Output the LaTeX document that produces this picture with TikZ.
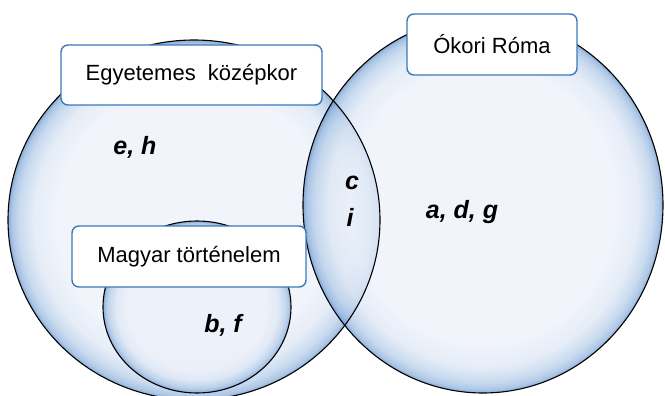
\documentclass[tikz,border=0pt]{standalone}
\usepackage{fontspec}
\setmainfont{Liberation Sans}
\usetikzlibrary{positioning}
\definecolor{bubin}{HTML}{EBF0F9}
\definecolor{bubmid}{HTML}{DCE6F4}
\definecolor{bubhi}{HTML}{B5CDE9}
\definecolor{bubrim}{HTML}{8FB2DD}
\definecolor{bubedge}{HTML}{5F8DC6}
\definecolor{boxblue}{HTML}{3A78BA}
\pgfdeclareradialshading{bubble}{\pgfpoint{0bp}{0bp}}{color(0bp)=(bubin); color(18.5bp)=(bubin); color(21.5bp)=(bubmid); color(23.5bp)=(bubhi); color(24.5bp)=(bubrim); color(25bp)=(bubedge); color(50bp)=(bubedge)}
\tikzset{
  setfill/.style={shading=bubble, fill opacity=0.72},
  setline/.style={draw=black, line width=1.1pt},
  setbox/.style={draw=boxblue, line width=1.4pt, fill=white, rounded corners=7pt, inner sep=0pt, font=\fontsize{22}{26}\selectfont},
  member/.style={inner sep=0pt, font=\fontsize{25}{30}\selectfont\bfseries\itshape}
}
\begin{document}
\begin{tikzpicture}[x=1pt,y=-1pt]
\useasboundingbox (0,0) rectangle (665,396);
\clip (0,0) rectangle (665,396);
% --- the three sets ---
\shade[setfill] (194,220) ellipse [x radius=186, y radius=180];
\shade[setfill] (197,307) ellipse [x radius=94, y radius=86];
\shade[setfill] (483,205) ellipse [x radius=180, y radius=188];
\draw[setline] (194,220) ellipse [x radius=186, y radius=180];
\draw[setline] (197,307) ellipse [x radius=94, y radius=86];
\draw[setline] (483,205) ellipse [x radius=180, y radius=188];
% --- set names ---
\node[setbox, minimum width=261pt, minimum height=60pt] (kozepkor) at (191.5,75) {Egyetemes\ \ középkor};
\node[setbox, minimum width=234pt, minimum height=61pt] (magyar) at (189,256.5) {Magyar történelem};
\node[setbox, minimum width=170pt, minimum height=61pt] (roma) at (492,44.5) {Ókori Róma};
% --- members ---
\node[member] (eh) at (135,147) {e, h};
\node[member] (c) at (352,183) {c};
\node[member] (i) at (350,217) {i};
\node[member] (adg) at (462,212) {a, d, g};
\node[member] (bf) at (223,325) {b, f};
\end{tikzpicture}
\end{document}
